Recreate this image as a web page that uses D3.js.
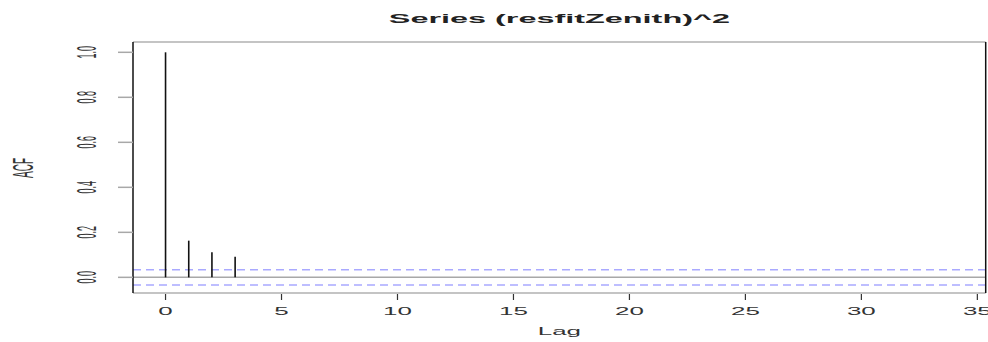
<!DOCTYPE html>
<html>
<head>
<meta charset="utf-8">
<script src="https://cdn.jsdelivr.net/npm/d3@7"></script>
<style>
  html, body { margin: 0; padding: 0; background: #fff; }
  svg { display: block; font-family: "Liberation Sans", Arial, sans-serif; }
</style>
</head>
<body>
<svg id="chart"></svg>
<script>
// ACF of squared residuals, lags 0..34
const lags = d3.range(0, 35);
const acfValues = [1.0, 0.163, 0.111, 0.092,
  0, 0, 0, 0, 0, 0, 0, 0, 0, 0, 0, 0, 0, 0, 0, 0,
  0, 0, 0, 0, 0, 0, 0, 0, 0, 0, 0, 0, 0, 0, 0];
const ciBound = 0.034;
const xTicks = [0, 5, 10, 15, 20, 25, 30, 35];
const yTicks = [0.0, 0.2, 0.4, 0.6, 0.8, 1.0];
const titleText = "Series (resfitZenith)^2";

const width = 988, height = 342;
const svg = d3.select("#chart").attr("width", width).attr("height", height);

// text in the picture is stretched sideways
const SX = 2.6;

// R style 4% padding of axis ranges
const xr = d3.extent(lags);
const xPad = (xr[1] - xr[0]) * 0.04;
const x = d3.scaleLinear().domain([xr[0] - xPad, xr[1] + xPad]).range([134, 985.7]);

const yr = [-ciBound, 1];
const yPad = (yr[1] - yr[0]) * 0.04;
const y = d3.scaleLinear().domain([yr[0] - yPad, yr[1] + yPad]).range([294.3, 43]);

const boxL = 133, boxR = 985.7, boxT = 42, boxB = 293;
const midX = (boxL + boxR) / 2;

// zero line
svg.append("line")
  .attr("x1", boxL).attr("x2", boxR)
  .attr("y1", y(0)).attr("y2", y(0))
  .attr("stroke", "#a8a8a8").attr("stroke-width", 1.5);

// confidence bounds
[ciBound, -ciBound].forEach(v => {
  svg.append("line")
    .attr("x1", boxL).attr("x2", boxR)
    .attr("y1", y(v)).attr("y2", y(v))
    .attr("stroke", "#a9a9ff").attr("stroke-width", 1.6)
    .attr("stroke-dasharray", "8,5");
});

// acf spikes
svg.append("g").selectAll("line")
  .data(lags.map((l, i) => ({ lag: l, v: acfValues[i] })))
  .enter().append("line")
  .attr("x1", d => x(d.lag)).attr("x2", d => x(d.lag))
  .attr("y1", y(0)).attr("y2", d => y(d.v))
  .attr("stroke", "#111").attr("stroke-width", 1.6);

// box: horizontal edges look grey, vertical edges black
svg.append("line").attr("x1", boxL).attr("x2", boxR).attr("y1", boxT).attr("y2", boxT)
  .attr("stroke", "#b0b0b0").attr("stroke-width", 1.5);
svg.append("line").attr("x1", boxL).attr("x2", boxR).attr("y1", boxB).attr("y2", boxB)
  .attr("stroke", "#b0b0b0").attr("stroke-width", 1.5);
svg.append("line").attr("x1", boxL).attr("x2", boxL).attr("y1", boxT).attr("y2", boxB)
  .attr("stroke", "#111").attr("stroke-width", 1.5);
svg.append("line").attr("x1", boxR).attr("x2", boxR).attr("y1", boxT).attr("y2", boxB)
  .attr("stroke", "#111").attr("stroke-width", 1.5);

// x axis
const xg = svg.append("g");
xg.selectAll("line").data(xTicks).enter().append("line")
  .attr("x1", d => x(d)).attr("x2", d => x(d))
  .attr("y1", boxB + 1).attr("y2", boxB + 7)
  .attr("stroke", "#333").attr("stroke-width", 1.2);
xg.selectAll("text").data(xTicks).enter().append("text")
  .attr("transform", d => `translate(${x(d)},${315}) scale(${SX},1)`)
  .attr("text-anchor", "middle")
  .style("font-size", "10px").attr("fill", "#333")
  .text(d => d);

// y axis
const yg = svg.append("g");
yg.selectAll("line").data(yTicks).enter().append("line")
  .attr("x1", boxL - 15).attr("x2", boxL)
  .attr("y1", d => y(d)).attr("y2", d => y(d))
  .attr("stroke", "#a8a8a8").attr("stroke-width", 1.5);
yg.selectAll("text").data(yTicks).enter().append("text")
  .attr("transform", d => `translate(${96},${y(d)}) scale(3,1) rotate(-90)`)
  .attr("text-anchor", "middle")
  .style("font-size", "9px").attr("fill", "#333")
  .text(d => d.toFixed(1));

// axis titles
svg.append("text")
  .attr("transform", `translate(${midX},${335}) scale(${SX},1)`)
  .attr("text-anchor", "middle")
  .style("font-size", "10px").attr("fill", "#333")
  .text("Lag");

svg.append("text")
  .attr("transform", `translate(${33},${168}) scale(3,1) rotate(-90)`)
  .attr("text-anchor", "middle")
  .style("font-size", "10px").attr("fill", "#333")
  .text("ACF");

// title
svg.append("text")
  .attr("transform", `translate(${midX},${23}) scale(2.7,1)`)
  .attr("text-anchor", "middle")
  .style("font-size", "12px").style("font-weight", "bold").attr("fill", "#222")
  .text(titleText);
</script>
</body>
</html>
